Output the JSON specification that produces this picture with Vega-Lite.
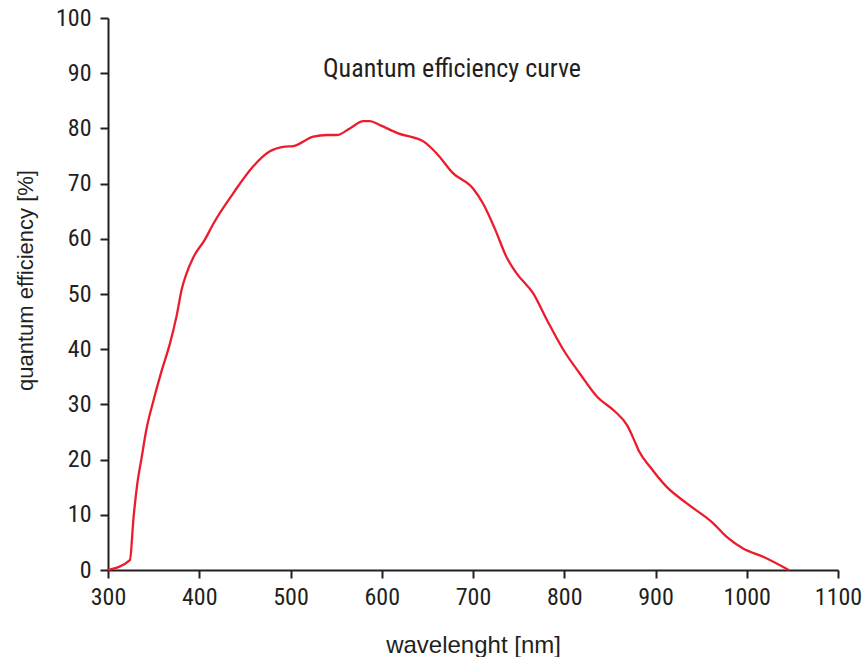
{
  "$schema": "https://vega.github.io/schema/vega-lite/v6.json",
  "autosize": {"type": "none"},
  "padding": {"left": 108, "top": 18, "right": 26, "bottom": 87},
  "width": 730,
  "height": 552,
  "background": "white",
  "config": {
    "view": {"stroke": null},
    "axis": {
      "domainColor": "#231f20",
      "domainWidth": 2,
      "tickColor": "#231f20",
      "tickWidth": 2,
      "tickSize": 8,
      "grid": false,
      "labelFont": "Roboto Condensed, Liberation Sans Narrow, DejaVu Sans Condensed, sans-serif",
      "labelFontSize": 24,
      "labelColor": "#231f20",
      "titleFont": "Liberation Sans",
      "titleFontWeight": "normal",
      "titleColor": "#231f20"
    }
  },
  "data": {
    "values": [
      {"wavelength": 300, "qe": 0},
      {"wavelength": 324, "qe": 1.8},
      {"wavelength": 328, "qe": 9.5},
      {"wavelength": 332, "qe": 15.5},
      {"wavelength": 337, "qe": 20.5},
      {"wavelength": 342, "qe": 25.4},
      {"wavelength": 350, "qe": 30.8},
      {"wavelength": 359, "qe": 36.2},
      {"wavelength": 368, "qe": 41.1},
      {"wavelength": 375, "qe": 45.9},
      {"wavelength": 381, "qe": 51.0},
      {"wavelength": 386, "qe": 53.7},
      {"wavelength": 394, "qe": 56.8},
      {"wavelength": 406, "qe": 59.8},
      {"wavelength": 415, "qe": 62.6},
      {"wavelength": 437, "qe": 68.2},
      {"wavelength": 459, "qe": 73.1},
      {"wavelength": 477, "qe": 75.8},
      {"wavelength": 494, "qe": 76.7},
      {"wavelength": 503, "qe": 76.8},
      {"wavelength": 525, "qe": 78.5},
      {"wavelength": 540, "qe": 78.8},
      {"wavelength": 551, "qe": 78.8},
      {"wavelength": 565, "qe": 80.0},
      {"wavelength": 580, "qe": 81.3},
      {"wavelength": 587, "qe": 81.3},
      {"wavelength": 598, "qe": 80.6},
      {"wavelength": 618, "qe": 79.1},
      {"wavelength": 646, "qe": 77.6},
      {"wavelength": 660, "qe": 75.5},
      {"wavelength": 678, "qe": 71.9},
      {"wavelength": 700, "qe": 69.1},
      {"wavelength": 711, "qe": 66.4},
      {"wavelength": 724, "qe": 61.8},
      {"wavelength": 737, "qe": 56.6},
      {"wavelength": 748, "qe": 53.7},
      {"wavelength": 766, "qe": 50.1},
      {"wavelength": 781, "qe": 45.3},
      {"wavelength": 799, "qe": 39.9},
      {"wavelength": 817, "qe": 35.6},
      {"wavelength": 836, "qe": 31.4},
      {"wavelength": 855, "qe": 28.8},
      {"wavelength": 869, "qe": 26.2},
      {"wavelength": 878, "qe": 23.0},
      {"wavelength": 882, "qe": 21.5},
      {"wavelength": 894, "qe": 18.7},
      {"wavelength": 912, "qe": 15.1},
      {"wavelength": 934, "qe": 12.1},
      {"wavelength": 963, "qe": 8.5},
      {"wavelength": 978, "qe": 6.0},
      {"wavelength": 996, "qe": 3.9},
      {"wavelength": 1018, "qe": 2.4},
      {"wavelength": 1046, "qe": 0.0}
    ]
  },
  "layer": [
    {
      "mark": {"type": "line", "color": "#ec1c2c", "strokeWidth": 2.3, "interpolate": "monotone"},
      "encoding": {
        "x": {
          "field": "wavelength", "type": "quantitative",
          "scale": {"domain": [300, 1100], "nice": false, "zero": false},
          "axis": {
            "values": [300, 400, 500, 600, 700, 800, 900, 1000, 1100],
            "format": "d",
            "title": "wavelenght [nm]",
            "titleFontSize": 24,
            "titleBaseline": "alphabetic",
            "titleY": 82,
            "labelPadding": 7,
            "labelFlush": false,
            "labelOverlap": false
          }
        },
        "y": {
          "field": "qe", "type": "quantitative",
          "scale": {"domain": [0, 100], "nice": false},
          "axis": {
            "values": [0, 10, 20, 30, 40, 50, 60, 70, 80, 90, 100],
            "format": "d",
            "title": "quantum efficiency [%]",
            "titleFontSize": 22,
            "titleX": -71,
            "titleY": 262,
            "titleBaseline": "bottom",
            "labelPadding": 9,
            "labelFlush": false,
            "labelOverlap": false
          }
        }
      }
    },
    {
      "data": {"values": [{"title": "Quantum efficiency curve"}]},
      "mark": {"type": "text", "font": "Roboto Condensed, Liberation Sans Narrow, Liberation Sans, sans-serif", "fontSize": 26, "color": "#231f20", "align": "center", "baseline": "alphabetic"},
      "encoding": {
        "text": {"field": "title", "type": "nominal"},
        "x": {"datum": 677, "type": "quantitative"},
        "y": {"datum": 89.3, "type": "quantitative"}
      }
    }
  ]
}
